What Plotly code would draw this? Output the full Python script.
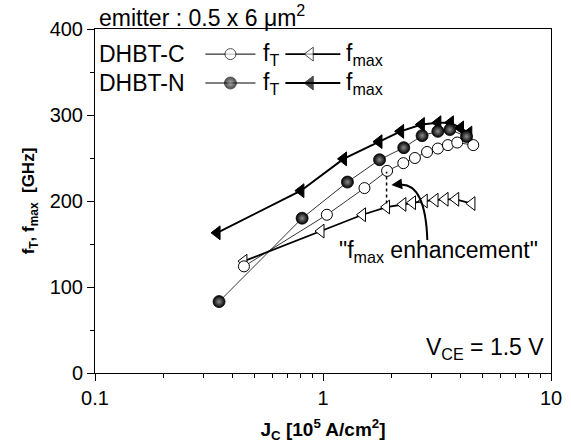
import plotly.graph_objects as go

# ---- data ----
c_ft_x = [0.45, 1.04, 1.52, 1.91, 2.25, 2.53, 2.86, 3.19, 3.53, 3.88, 4.56]
c_ft_y = [124, 184, 215, 235, 244, 250, 257, 261, 265, 268, 265]

c_fmax_x = [0.45, 0.98, 1.49, 1.90, 2.24, 2.47, 2.78, 3.10, 3.43, 3.82, 4.50]
c_fmax_y = [130, 165, 184, 193, 196, 198, 200, 201, 202, 202, 197]

n_ft_x = [0.35, 0.81, 1.28, 1.77, 2.26, 2.72, 3.19, 3.60, 4.26]
n_ft_y = [83, 180, 222, 248, 262, 276, 281, 283, 275]

n_fmax_x = [0.343, 0.80, 1.23, 1.76, 2.19, 2.70, 3.19, 3.62, 4.01, 4.36]
n_fmax_y = [163, 212, 249, 269, 281, 289, 291, 291, 285, 279]

enh_x = [1.90, 1.90]
enh_y = [197, 234]

x_tickvals = [0.1, 1, 10]
x_ticktext = ["0.1", "1", "10"]
x_minor = [0.2, 0.3, 0.4, 0.5, 0.6, 0.7, 0.8, 0.9, 2, 3, 4, 5, 6, 7, 8, 9]
y_tickvals = [0, 100, 200, 300, 400]

FONT = "Liberation Sans, Arial, Helvetica, sans-serif"
TXT = 23

open_circle = dict(symbol="circle", size=11, color="white", line=dict(color="black", width=1))
ball = dict(symbol="circle", size=12, color="black", gradient=dict(type="radial", color="#8c8c8c"),
            line=dict(color="black", width=0.8))
open_tri = dict(symbol="triangle-left", size=12, color="white", line=dict(color="black", width=1))
fill_tri = dict(symbol="triangle-left", size=12, color="black", line=dict(color="black", width=1))

fig = go.Figure()
fig.add_trace(go.Scatter(x=c_fmax_x, y=c_fmax_y, mode="lines+markers",
                         line=dict(color="black", width=1.8), marker=open_tri))
fig.add_trace(go.Scatter(x=n_fmax_x, y=n_fmax_y, mode="lines+markers",
                         line=dict(color="black", width=2), marker=fill_tri))
fig.add_trace(go.Scatter(x=c_ft_x, y=c_ft_y, mode="lines+markers",
                         line=dict(color="black", width=0.8), marker=open_circle))
fig.add_trace(go.Scatter(x=n_ft_x, y=n_ft_y, mode="lines+markers",
                         line=dict(color="black", width=0.8), marker=ball))
fig.add_trace(go.Scatter(x=enh_x, y=enh_y, mode="lines",
                         line=dict(color="black", width=1.5, dash="dot")))

# legend samples on an overlay axis (0..1)
leg_rows = [0.927, 0.843]
seg_ft = [0.242, 0.297, 0.352]
seg_fmax = [0.4175, 0.472, 0.538]
for row, (m_ft, m_fmax, w_fmax) in zip(leg_rows, [(open_circle, open_tri, 1.8), (ball, fill_tri, 2)]):
    fig.add_trace(go.Scatter(x=seg_ft, y=[row] * 3, mode="lines+markers", xaxis="x2", yaxis="y2",
                             line=dict(color="black", width=1),
                             marker=dict(m_ft, size=[0, m_ft["size"], 0])))
    fig.add_trace(go.Scatter(x=seg_fmax, y=[row] * 3, mode="lines+markers", xaxis="x2", yaxis="y2",
                             line=dict(color="black", width=w_fmax),
                             marker=dict(m_fmax, size=[0, m_fmax["size"], 0])))

ann = []
for row, name in zip(leg_rows, ["DHBT-C", "DHBT-N"]):
    ann.append(dict(x=0.004, y=row, xref="paper", yref="paper", text=name, showarrow=False,
                    xanchor="left", yanchor="middle", font=dict(size=TXT)))
    ann.append(dict(x=0.363, y=row, xref="paper", yref="paper", text="f<sub>T</sub>", showarrow=False,
                    xanchor="left", yanchor="middle", font=dict(size=TXT)))
    ann.append(dict(x=0.546, y=row, xref="paper", yref="paper", text="f<sub>max</sub>", showarrow=False,
                    xanchor="left", yanchor="middle", font=dict(size=TXT)))

ann.append(dict(x=0.004, y=1.0, xref="paper", yref="paper", text="emitter : 0.5 x 6 μm<sup>2</sup>",
                showarrow=False, xanchor="left", yanchor="bottom", yshift=-4, font=dict(size=23)))
ann.append(dict(x=0.99, y=0.07, xref="paper", yref="paper", text="V<sub>CE</sub> = 1.5 V",
                showarrow=False, xanchor="right", yanchor="middle", font=dict(size=TXT)))
ann.append(dict(x=0.975, y=0.352, xref="paper", yref="paper", text='"f<sub>max</sub> enhancement"',
                showarrow=False, xanchor="right", yanchor="middle", font=dict(size=TXT)))
# arrow head
ann.append(dict(x=0.6499, y=0.5465, xref="paper", yref="paper", text="", showarrow=True,
                ax=9, ay=-1, arrowhead=2, arrowsize=1.2, arrowwidth=1.8, arrowcolor="black"))

shapes = [dict(type="path", xref="paper", yref="paper",
               path="M 0.7288 0.3866 Q 0.7245 0.5523 0.6690 0.5470",
               line=dict(color="black", width=2))]

fig.update_layout(
    width=571, height=447,
    margin=dict(l=95, r=20, t=29, b=74),
    paper_bgcolor="white", plot_bgcolor="white",
    font=dict(family=FONT, color="black", size=20),
    showlegend=False,
    annotations=ann, shapes=shapes,
    xaxis=dict(type="log", range=[-1, 1], tickvals=x_tickvals, ticktext=x_ticktext,
               ticks="outside", ticklen=7, tickwidth=1, tickcolor="black",
               minor=dict(tickvals=x_minor, ticks="outside", ticklen=4, tickcolor="black", tickwidth=1),
               showline=True, linecolor="black", linewidth=1, mirror=True, showgrid=False, zeroline=False,
               tickfont=dict(size=20), automargin=False,
               title=dict(text="<b>J<sub>C</sub> [10<sup>5</sup> A/cm<sup>2</sup>]</b>", font=dict(size=19),
                          standoff=14)),
    yaxis=dict(range=[0, 400], tickvals=y_tickvals, ticks="outside", ticklen=7, tickwidth=1,
               tickcolor="black",
               minor=dict(dtick=50, ticks="outside", ticklen=4, tickcolor="black", tickwidth=1),
               showline=True, linecolor="black", linewidth=1, mirror=True, showgrid=False, zeroline=False,
               tickfont=dict(size=20), automargin=False,
               title=dict(text="<b>f<sub>T</sub>, f<sub>max</sub>  [GHz]</b>", font=dict(size=17),
                          standoff=10)),
    xaxis2=dict(overlaying="x", range=[0, 1], visible=False, fixedrange=True),
    yaxis2=dict(overlaying="y", range=[0, 1], visible=False, fixedrange=True),
)

fig.write_html("out.html", config={"displayModeBar": False},
               post_script="document.body.style.margin='0';document.body.style.padding='0';")
